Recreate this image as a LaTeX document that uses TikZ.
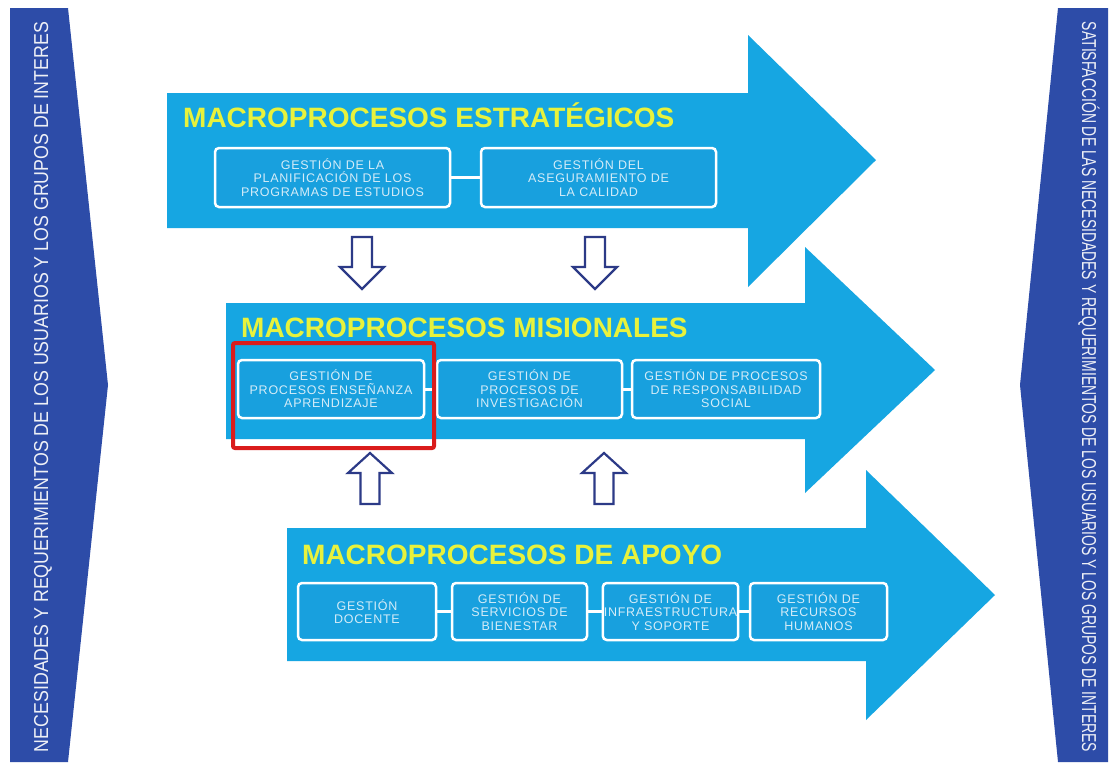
\documentclass[tikz,border=0pt]{standalone}
\usepackage{fontspec}
\usepackage{graphicx}
\setmainfont{Liberation Sans}
\newfontfamily\boxfamily[LetterSpace=6]{Liberation Sans}
\newcommand\boxfont{\boxfamily\fontsize{12.5}{13.5}\selectfont}

\definecolor{flowblue}{RGB}{22,166,226}
\definecolor{boxblue}{RGB}{24,160,222}
\definecolor{bannerblue}{RGB}{45,76,168}
\definecolor{titleyellow}{RGB}{232,242,60}
\definecolor{boxtext}{RGB}{212,236,248}
\definecolor{sidewhite}{RGB}{238,240,246}
\definecolor{hollowline}{RGB}{44,58,135}
\definecolor{markred}{RGB}{218,28,28}

\tikzset{
  flow/.style={fill=flowblue, draw=none},
  banner/.style={fill=bannerblue, draw=none},
  title/.style={anchor=base west, text=titleyellow, inner sep=0pt,
    font=\fontsize{28}{30}\selectfont\bfseries},
  pbox/.style={draw=white, line width=2.5pt, rounded corners=4pt, fill=boxblue,
    text=boxtext, align=center, font=\boxfont, inner sep=1pt},
  link/.style={draw=white, line width=3pt},
  hollow/.style={draw=hollowline, fill=white, line width=2.2pt, line join=miter},
  sidetext/.style={text=sidewhite, inner sep=0pt, font=\fontsize{18}{18}\selectfont},
  downflow/.pic={\draw[hollow] (-10,0) -- (10,0) -- (10,30) -- (22,30) -- (0,52)
      -- (-22,30) -- (-10,30) -- cycle;},
  upflow/.pic={\draw[hollow] (0,0) -- (22,20) -- (9.5,20) -- (9.5,51) -- (-9.5,51)
      -- (-9.5,20) -- (-22,20) -- cycle;}
}

\begin{document}
\begin{tikzpicture}[x=1pt, y=-1pt]
  \useasboundingbox (0,0) rectangle (1111,769);
  \fill[white] (0,0) rectangle (1111,769);

  % side banners
  \fill[banner] (10,8) -- (68,8) -- (108,385) -- (68,762) -- (10,762) -- cycle;
  \fill[banner] (1058,8) -- (1108,8) -- (1108,762) -- (1058,762) -- (1020,385) -- cycle;
  \node[sidetext, rotate=90] (needs) at (43,387)
    {\resizebox{730pt}{1.12\height}{NECESIDADES Y REQUERIMIENTOS DE LOS USUARIOS Y LOS GRUPOS DE INTERES}};
  \node[sidetext, rotate=-90] (satisfaction) at (1089,387)
    {\resizebox{730pt}{1.12\height}{SATISFACCIÓN DE LAS NECESIDADES Y REQUERIMIENTOS DE LOS USUARIOS Y LOS GRUPOS DE INTERES}};

  % process flow arrows
  \fill[flow] (167,93) -- (748,93) -- (748,35) -- (876,160) -- (748,287)
    -- (748,228) -- (167,228) -- cycle;
  \fill[flow] (226,303) -- (805,303) -- (805,247) -- (935,370) -- (805,493)
    -- (805,439) -- (226,439) -- cycle;
  \fill[flow] (287,528) -- (866,528) -- (866,470) -- (995,595) -- (866,720)
    -- (866,661) -- (287,661) -- cycle;

  % titles
  \node[title] (tstrat) at (183,127) {MACROPROCESOS ESTRATÉGICOS};
  \node[title] (tmis) at (241,337) {MACROPROCESOS MISIONALES};
  \node[title] (tapoyo) at (302,564) {MACROPROCESOS DE APOYO};

  % strategic processes
  \node[pbox, minimum width=235pt, minimum height=59pt] (b1) at (332.5,177.5)
    {GESTIÓN DE LA\\PLANIFICACIÓN DE LOS\\PROGRAMAS DE ESTUDIOS};
  \node[pbox, minimum width=235pt, minimum height=59pt] (b2) at (598.5,177.5)
    {GESTIÓN DEL\\ASEGURAMIENTO DE\\LA CALIDAD};
  \draw[link] (b1.east) -- (b2.west);

  % mission processes
  \node[pbox, minimum width=186pt, minimum height=58pt] (m1) at (331,389)
    {GESTIÓN DE\\PROCESOS ENSEÑANZA\\APRENDIZAJE};
  \node[pbox, minimum width=185pt, minimum height=58pt] (m2) at (529.5,389)
    {GESTIÓN DE\\PROCESOS DE\\INVESTIGACIÓN};
  \node[pbox, minimum width=188pt, minimum height=58pt] (m3) at (726,389)
    {GESTIÓN DE PROCESOS\\DE RESPONSABILIDAD\\SOCIAL};
  \draw[link] (m1.east) -- (m2.west);
  \draw[link] (m2.east) -- (m3.west);

  % support processes
  \node[pbox, minimum width=138pt, minimum height=57pt] (a1) at (367,611.5)
    {GESTIÓN\\DOCENTE};
  \node[pbox, minimum width=135pt, minimum height=57pt] (a2) at (519.5,611.5)
    {GESTIÓN DE\\SERVICIOS DE\\BIENESTAR};
  \node[pbox, minimum width=135pt, minimum height=57pt] (a3) at (670.5,611.5)
    {GESTIÓN DE\\INFRAESTRUCTURA\\Y SOPORTE};
  \node[pbox, minimum width=137pt, minimum height=57pt] (a4) at (818.5,611.5)
    {GESTIÓN DE\\RECURSOS\\HUMANOS};
  \draw[link] (a1.east) -- (a2.west);
  \draw[link] (a2.east) -- (a3.west);
  \draw[link] (a3.east) -- (a4.west);

  % hollow arrows between levels
  \pic at (362,237) {downflow};
  \pic at (595,237) {downflow};
  \pic at (370,453) {upflow};
  \pic at (604,453) {upflow};

  % highlight frame
  \draw[markred, line width=4pt, rounded corners=2pt] (233,343) rectangle (434,448);
\end{tikzpicture}
\end{document}
